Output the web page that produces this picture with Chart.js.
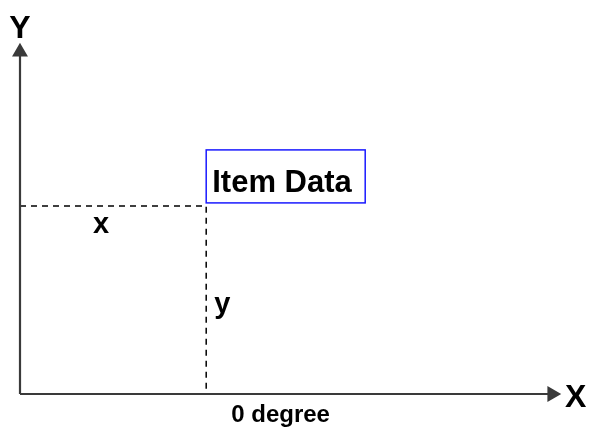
<!DOCTYPE html>
<html>
<head>
<meta charset="utf-8">
<script src="https://cdn.jsdelivr.net/npm/chart.js@4"></script>
<style>
  html, body { margin: 0; padding: 0; background: #ffffff; }
  #wrap { width: 589px; height: 435px; }
</style>
</head>
<body>
<div id="wrap"><canvas id="diagram" width="589" height="435"></canvas></div>
<script>
// axis names and the item's position on them
const axisNames = ["X", "Y"];
const axisRange = [0, 100];
const itemX = [35];
const itemY = [55];
const itemLabel = ["Item Data"];
const componentLabels = ["x", "y"];
const baseCaption = ["0 degree"];

const axisColor = "#3a3a3a";
const font = "'Liberation Sans', Arial, sans-serif";

// text and the item box are drawn on top of the datasets
const labelsPlugin = {
    id: "labels",
    afterDatasetsDraw(chart) {
        const ctx = chart.ctx;
        const sx = chart.scales.x, sy = chart.scales.y;
        const x0 = sx.getPixelForValue(axisRange[0]);
        const y0 = sy.getPixelForValue(axisRange[0]);
        const xEnd = sx.getPixelForValue(axisRange[1]);
        const yEnd = sy.getPixelForValue(axisRange[1]);
        const px = sx.getPixelForValue(itemX[0]);
        const py = sy.getPixelForValue(itemY[0]);

        ctx.save();
        ctx.fillStyle = "#000";
        ctx.textBaseline = "alphabetic";

        // axis names
        ctx.font = "bold 32px " + font;
        ctx.textAlign = "center";
        ctx.fillText(axisNames[1], x0, yEnd - 14);
        ctx.textAlign = "left";
        ctx.fillText(axisNames[0], xEnd + 13, y0 + 13);

        // components
        ctx.font = "bold 29px " + font;
        ctx.textAlign = "center";
        ctx.fillText(componentLabels[0], (x0 + px) / 2 - 12, py + 27);
        ctx.textAlign = "left";
        ctx.fillText(componentLabels[1], px + 8, (py + y0) / 2 + 13);

        // caption under the x axis
        ctx.font = "bold 24px " + font;
        ctx.fillText(baseCaption[0], px + 25, y0 + 28);

        // item box
        const boxW = 159, boxH = 53;
        const bx = px, by = py - 3 - boxH;
        ctx.strokeStyle = "#1a1aff";
        ctx.lineWidth = 1.5;
        ctx.strokeRect(bx, by, boxW, boxH);
        ctx.font = "bold 31px " + font;
        ctx.fillText(itemLabel[0], bx + 6, by + boxH - 11);
        ctx.restore();
    }
};

new Chart(document.getElementById("diagram"), {
    type: "scatter",
    data: {
        datasets: [
            {
                // x axis with arrow
                data: [{ x: axisRange[0], y: axisRange[0] }, { x: axisRange[1], y: axisRange[0] }],
                showLine: true,
                borderColor: axisColor,
                backgroundColor: axisColor,
                borderWidth: 2.2,
                pointStyle: "triangle",
                pointRadius: [0, 7],
                rotation: 90,
                clip: false
            },
            {
                // y axis with arrow
                data: [{ x: axisRange[0], y: axisRange[0] }, { x: axisRange[0], y: axisRange[1] }],
                showLine: true,
                borderColor: axisColor,
                backgroundColor: axisColor,
                borderWidth: 2.2,
                pointStyle: "triangle",
                pointRadius: [0, 7],
                rotation: 0,
                clip: false
            },
            {
                // dashed projections
                data: [{ x: axisRange[0], y: itemY[0] }, { x: itemX[0], y: itemY[0] }, { x: itemX[0], y: axisRange[0] }],
                showLine: true,
                borderColor: "#000",
                borderWidth: 1.5,
                borderDash: [6, 5],
                pointRadius: 0,
                clip: false
            }
        ]
    },
    options: {
        responsive: false,
        animation: false,
        events: [],
        layout: { padding: { left: 20, right: 37, top: 52, bottom: 41 } },
        scales: {
            x: { type: "linear", min: axisRange[0], max: axisRange[1], display: false },
            y: { type: "linear", min: axisRange[0], max: axisRange[1], display: false }
        },
        plugins: { legend: { display: false }, tooltip: { enabled: false } }
    },
    plugins: [labelsPlugin]
});
</script>
</body>
</html>
